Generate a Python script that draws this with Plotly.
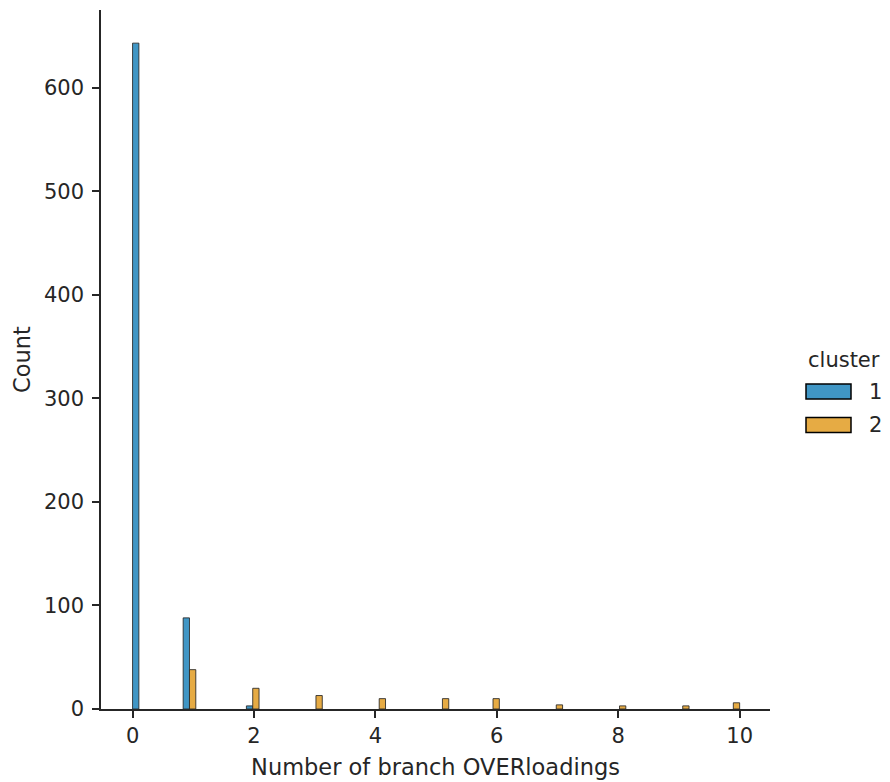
import numpy as np
import plotly.graph_objects as go

# Counts of branch overloadings per cluster (value -> count)
values = list(range(11))
cluster1_counts = [643, 88, 3, 0, 0, 0, 0, 0, 0, 0, 0]
cluster2_counts = [0, 38, 20, 13, 10, 10, 10, 4, 3, 3, 6]

cluster_names = ["1", "2"]
cluster_colors = ["#4096c5", "#e6ab44"]
edge_color = "rgba(38,38,38,0.85)"

# Histogram binning: 48 equal bins over [0, 10]; the two clusters are dodged
n_bins = 48
lo, hi = 0.0, 10.0
bin_w = (hi - lo) / n_bins


def bin_left(v):
    k = min(int(np.floor((v - lo) / bin_w)), n_bins - 1)
    return lo + k * bin_w


fig = go.Figure()
for idx, counts in enumerate([cluster1_counts, cluster2_counts]):
    xs, ys = [], []
    for v, c in zip(values, counts):
        if c > 0:
            xs.append(bin_left(v) + bin_w / 2)
            ys.append(c)
    fig.add_trace(go.Bar(
        x=xs, y=ys,
        width=bin_w / 2,
        offset=-bin_w / 2 if idx == 0 else 0,
        marker=dict(color=cluster_colors[idx],
                    line=dict(color=edge_color, width=1)),
        name=cluster_names[idx],
        showlegend=False,
    ))

font_family = "DejaVu Sans"
text_color = "#262626"
axis_color = "#262626"

fig.update_layout(
    width=890, height=782,
    margin=dict(l=101, r=120, t=10, b=73),
    plot_bgcolor="white", paper_bgcolor="white",
    barmode="overlay",
    font=dict(family=font_family, color=text_color, size=21),
)
fig.update_xaxes(
    range=[-0.52, 10.5],
    tickvals=[0, 2, 4, 6, 8, 10],
    showgrid=False, zeroline=False, automargin=False,
    showline=True, linecolor=axis_color, linewidth=1.5,
    ticks="outside", ticklen=7, tickwidth=1.5, tickcolor=axis_color,
    tickfont=dict(size=21, family=font_family),
    title=dict(text="Number of branch OVERloadings", font=dict(size=22.5, family=font_family), standoff=12),
)
fig.update_yaxes(
    range=[0, 675],
    tickvals=[0, 100, 200, 300, 400, 500, 600],
    showgrid=False, zeroline=False, automargin=False,
    showline=True, linecolor=axis_color, linewidth=1.5,
    ticks="outside", ticklen=7, tickwidth=1.5, tickcolor=axis_color,
    ticklabelstandoff=4,
    tickfont=dict(size=21, family=font_family),
    title=dict(text="Count", font=dict(size=22.5, family=font_family), standoff=7),
)

# convert pixel positions to paper coordinates
plot_l, plot_r, plot_t, plot_b = 101, 770, 10, 709


def px_x(p):
    return (p - plot_l) / (plot_r - plot_l)


def px_y(p):
    return (plot_b - p) / (plot_b - plot_t)


# Legend drawn as patches with labels to the right of the axes
fig.add_annotation(x=px_x(844), y=px_y(360), xref="paper", yref="paper", text="cluster",
                   showarrow=False, font=dict(size=21, color=text_color, family=font_family),
                   xanchor="center", yanchor="middle")
legend_rows = [391.5, 425]
for name, color, yc in zip(cluster_names, cluster_colors, legend_rows):
    fig.add_shape(type="rect", xref="paper", yref="paper",
                  x0=px_x(806), x1=px_x(851), y0=px_y(yc - 7.5), y1=px_y(yc + 7.5),
                  fillcolor=color, line=dict(color="black", width=1.5))
    fig.add_annotation(x=px_x(867), y=px_y(yc), xref="paper", yref="paper", text=name,
                       showarrow=False, font=dict(size=21, color=text_color, family=font_family),
                       xanchor="left", yanchor="middle")

fig.write_html("out.html")
